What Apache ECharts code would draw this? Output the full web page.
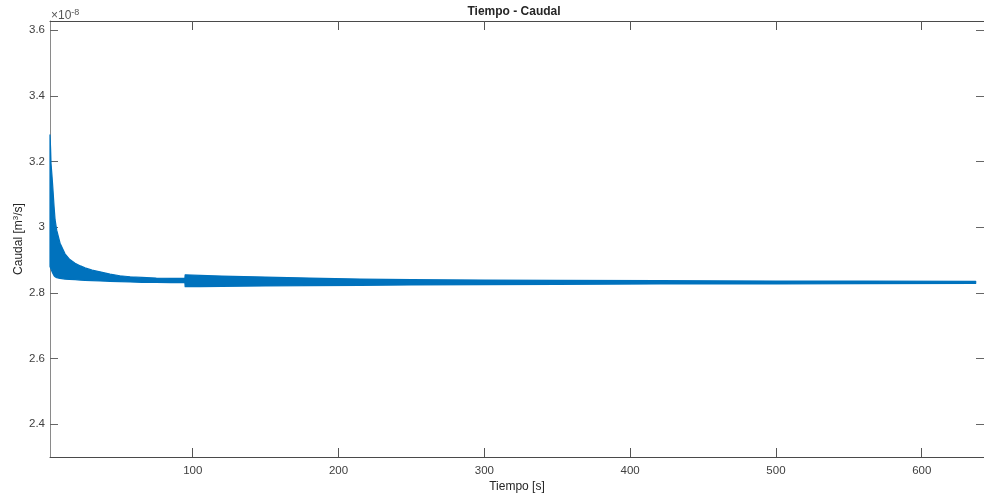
<!DOCTYPE html>
<html>
<head>
<meta charset="utf-8">
<script src="https://cdn.jsdelivr.net/npm/echarts@6/dist/echarts.min.js"></script>
<style>
html,body{margin:0;padding:0;background:#fff;}
#chart{width:984px;height:497px;}
</style>
</head>
<body>
<div id="chart"></div>
<script>
// Time [s]
var timeS = [2.1, 2.5, 2.8, 3.4, 4.0, 4.9, 5.6, 6.7, 9.0, 12.4, 15.5, 19.3, 23.0, 26.1, 31.0, 36.4, 43.3, 50.0, 57.0, 65.0, 75.0, 85.0, 94.6, 94.8, 105, 120, 150, 180, 215, 250, 300, 350, 420, 500, 560, 637];
// Upper envelope of the oscillating flow (x 1e-8 m^3/s)
var flowUpper = [3.281, 3.240, 3.194, 3.160, 3.123, 3.062, 3.022, 2.991, 2.951, 2.919, 2.902, 2.890, 2.882, 2.876, 2.869, 2.864, 2.857, 2.852, 2.849, 2.847, 2.845, 2.844, 2.844, 2.855, 2.853, 2.851, 2.848, 2.845, 2.842, 2.840, 2.839, 2.838, 2.837, 2.836, 2.836, 2.835];
// Lower envelope of the oscillating flow (x 1e-8 m^3/s)
var flowLower = [2.880, 2.876, 2.872, 2.866, 2.860, 2.852, 2.849, 2.846, 2.844, 2.842, 2.841, 2.840, 2.839, 2.838, 2.837, 2.836, 2.835, 2.834, 2.833, 2.832, 2.832, 2.831, 2.831, 2.819, 2.819, 2.820, 2.821, 2.822, 2.823, 2.824, 2.825, 2.826, 2.827, 2.827, 2.828, 2.829];
var xTicks = [100, 200, 300, 400, 500, 600];
var yTicks = [2.4, 2.6, 2.8, 3.0, 3.2, 3.4, 3.6];

var blue = '#0072BD';
var upperData = timeS.map(function (t, i) { return [t, flowUpper[i]]; });
var lowerData = timeS.map(function (t, i) { return [t, flowLower[i]]; });

var font = 'Liberation Sans, Arial, Helvetica, sans-serif';
var labelColor = '#404040';
var xMin = 2.1, xMax = 642.7, yMin = 2.3, yMax = 3.628;

function xAx(pos, show) {
  return {
    type: 'value', position: pos, min: xMin, max: xMax,
    axisLine: { show: true, onZero: false, lineStyle: { color: '#4a4a4a', width: 1 } },
    axisTick: { show: true, inside: true, length: 9, customValues: xTicks, lineStyle: { color: '#555', width: 1 } },
    axisLabel: { show: show, customValues: xTicks, margin: 8, color: labelColor, fontSize: 11.5, fontFamily: font },
    splitLine: { show: false },
    z: 10
  };
}
function yAx(pos, show) {
  return {
    type: 'value', position: pos, min: yMin, max: yMax,
    axisLine: { show: true, onZero: false, lineStyle: { color: '#8a8a8a', width: 1 } },
    axisTick: { show: true, inside: true, length: 8, customValues: yTicks, lineStyle: { color: '#666', width: 1 } },
    axisLabel: { show: show, customValues: yTicks, margin: 5, color: labelColor, fontSize: 11.5, fontFamily: font,
      formatter: function (v) { return String(Math.round(v * 10) / 10); } },
    splitLine: { show: false },
    z: 10
  };
}

var chart = echarts.init(document.getElementById('chart'), null, { renderer: 'canvas' });
var xa = xAx('bottom', true);
xa.name = 'Tiempo [s]';
xa.nameLocation = 'middle';
xa.nameGap = 24;
xa.nameMoveOverlap = false;
xa.nameTextStyle = { color: '#262626', fontSize: 12, fontFamily: font };
var ya = yAx('left', true);
ya.name = 'Caudal [m{sup|3}/s]';
ya.nameLocation = 'middle';
ya.nameGap = 24;
ya.nameMoveOverlap = false;
ya.nameTextStyle = { color: '#262626', fontSize: 12, fontFamily: font,
  rich: { sup: { fontSize: 8, verticalAlign: 'top', color: '#262626', fontFamily: font, padding: [0, 0, 6, 0] } } };

chart.setOption({
  animation: false,
  backgroundColor: '#fff',
  title: {
    text: 'Tiempo - Caudal', left: 514, top: 6, padding: 0, textAlign: 'center',
    textStyle: { fontSize: 12, fontWeight: 'bold', color: '#262626', fontFamily: font }
  },
  grid: { left: 50, right: 0, top: 21, bottom: 40, containLabel: false, outerBoundsMode: 'none' },
  xAxis: [xa, xAx('top', false)],
  yAxis: [ya, yAx('right', false)],
  graphic: [{
    type: 'text', left: 51, top: 8, z: 20,
    style: { text: '×10{s|-8}', fill: '#555555', fontSize: 12, fontFamily: font,
      rich: { s: { fontSize: 9, fill: '#555555', fontFamily: font, verticalAlign: 'top', padding: [0, 0, 7, 0] } } }
  }],
  series: [
    {
      type: 'custom', name: 'Caudal', coordinateSystem: 'cartesian2d', z: 12, clip: false,
      data: [[timeS[0], flowUpper[0]]],
      renderItem: function (params, api) {
        var pts = [];
        var i;
        for (i = 0; i < upperData.length; i++) pts.push(api.coord(upperData[i]));
        for (i = lowerData.length - 1; i >= 0; i--) pts.push(api.coord(lowerData[i]));
        return {
          type: 'polygon',
          shape: { points: pts },
          style: { fill: blue, stroke: blue, lineWidth: 1.2, lineJoin: 'round' }
        };
      }
    }
  ]
});
</script>
</body>
</html>
